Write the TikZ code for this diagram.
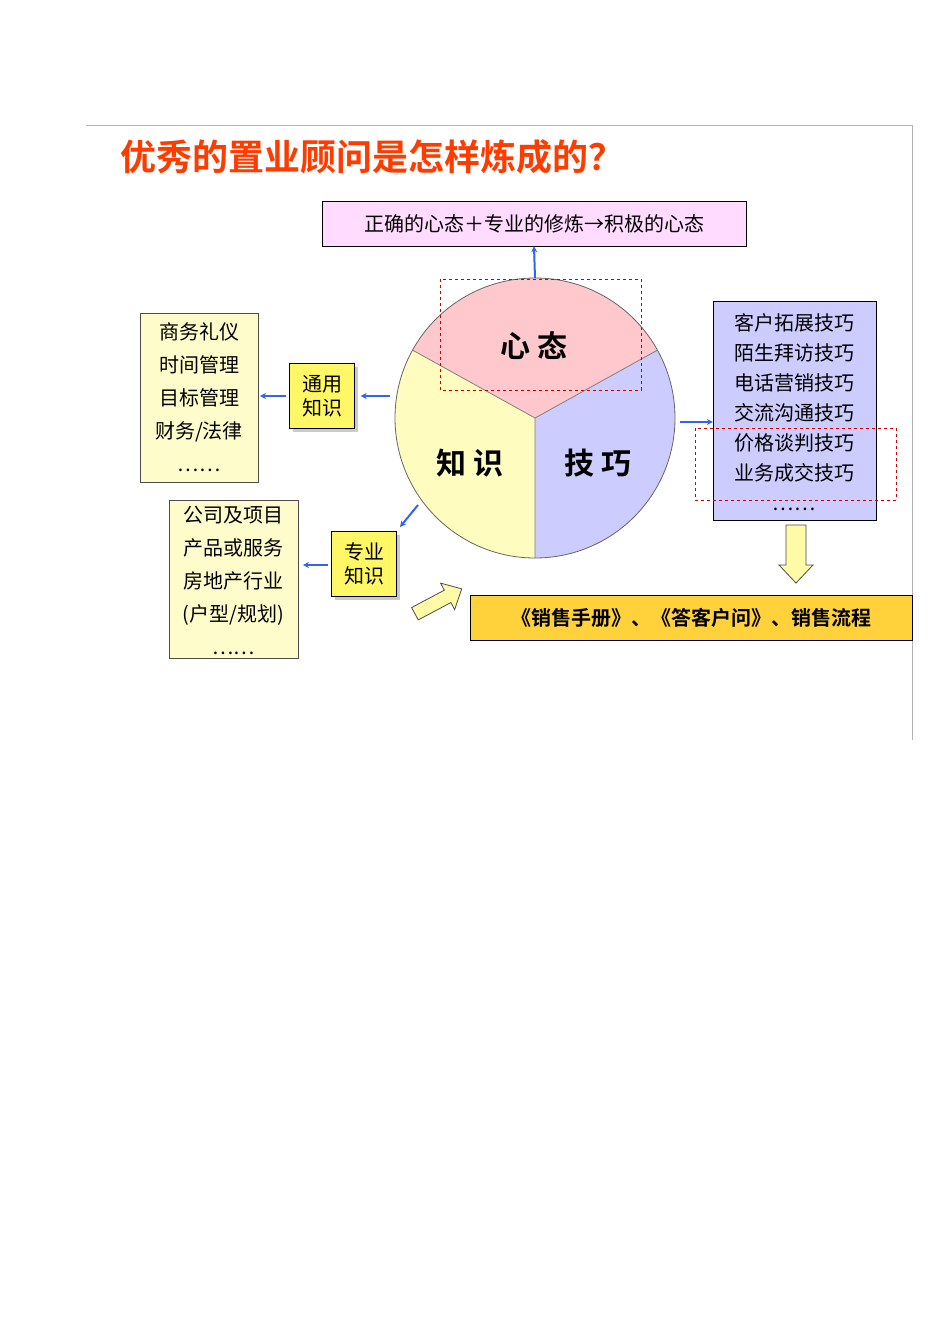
\documentclass[tikz,border=0pt]{standalone}
\usepackage{fontspec}
\setmainfont{Noto Sans CJK SC}
\newfontfamily\cjkb{Noto Sans CJK SC Bold}
\usetikzlibrary{arrows.meta,shadows}
\definecolor{pinkbox}{RGB}{255,220,255}
\definecolor{pinkseg}{RGB}{255,200,205}
\definecolor{blueseg}{RGB}{204,204,255}
\definecolor{titlered}{RGB}{255,60,0}
\definecolor{arrowblue}{RGB}{50,100,240}
\definecolor{gold}{RGB}{255,210,60}
\begin{document}
\begin{tikzpicture}[x=1pt,y=-1pt,
  txt/.style={font=\fontsize{20}{33}\selectfont,align=center,inner sep=0pt},
  ybox/.style={draw=black!70,fill=yellow!20},
  sbox/.style={draw=black,fill=yellow!60,drop shadow={shadow xshift=3pt,shadow yshift=-3pt,fill=black!40},font=\fontsize{20}{24}\selectfont,align=center,inner sep=2pt,minimum width=65pt,minimum height=65pt},
  barr/.style={-{Stealth[length=6pt,width=6pt]},line width=2pt,draw=arrowblue},
  rdash/.style={draw=red!80!black,dashed,line width=0.8pt},
  hollow/.style={draw=black!70,fill=yellow!35,line width=0.8pt}]
\useasboundingbox (0,0) rectangle (950,1344);
\fill[white] (0,0) rectangle (950,1344);
\draw[black!30] (86,125) -- (912,125) -- (912,740);
\node[font=\cjkb\fontsize{36}{40}\selectfont,text=titlered,anchor=west,inner sep=0pt] (title) at (120,157) {优秀的置业顾问是怎样炼成的？};
\node[draw=black,fill=pinkbox,minimum width=424pt,minimum height=45pt,font=\fontsize{20}{24}\selectfont] (mind) at (534,223.5) {正确的心态＋专业的修炼→积极的心态};
% circle
\coordinate (c) at (535,418);
\begin{scope}[shift={(535,418)},yscale=-1]
\fill[pinkseg] (0,0) -- (29:140) arc[start angle=29,end angle=151,radius=140] -- cycle;
\fill[yellow!25] (0,0) -- (151:140) arc[start angle=151,end angle=270,radius=140] -- cycle;
\fill[blueseg] (0,0) -- (270:140) arc[start angle=270,end angle=389,radius=140] -- cycle;
\coordinate (L) at (151:140);
\coordinate (R) at (29:140);
\coordinate (B) at (270:140);
\end{scope}
\draw[black!60,line width=0.8pt] (c) circle[radius=140];
\draw[black!50,line width=0.8pt] (L) -- (c) -- (R) (c) -- (B);
\node[font=\cjkb\fontsize{30}{30}\selectfont] (xt) at (534,346) {心 态};
\node[font=\cjkb\fontsize{30}{30}\selectfont] (zs) at (470,463) {知 识};
\node[font=\cjkb\fontsize{30}{30}\selectfont] (jq) at (598,463) {技 巧};
\coordinate (top) at (535,278);
\draw[barr] (top) -- (mind.south);
\draw[rdash] (440,279) rectangle (641,390);
% left boxes
\draw[ybox] (140,313) rectangle (258,482);
\node[txt] (l1) at (199,397.5) {商务礼仪\\时间管理\\目标管理\\财务/法律\\……};
\node[sbox] (ty) at (322,396) {通用\\知识};
\coordinate (c1) at (390,396);
\draw[barr] (c1) -- ([xshift=6pt]ty.east);
\coordinate (l1e) at (260,396);
\coordinate (tyw) at (286,396);
\draw[barr] (tyw) -- (l1e);
\node[sbox] (zy) at (364,564) {专业\\知识};
\draw[ybox] (169,500) rectangle (298,658);
\node[txt] (l2) at (233.5,580) {公司及项目\\产品或服务\\房地产行业\\(户型/规划)\\……};
\coordinate (l2e) at (303,565);
\coordinate (zyw) at (328,565);
\draw[barr] (zyw) -- (l2e);
\coordinate (c2) at (418,505);
\coordinate (c2e) at (400,527);
\draw[barr] (c2) -- (c2e);
% right
\node[draw=black,fill=blueseg,minimum width=163pt,minimum height=219pt] (rb) at (794.5,410.5) {};
\node[txt,font=\fontsize{20}{30}\selectfont] (rt) at (794,412) {客户拓展技巧\\陌生拜访技巧\\电话营销技巧\\交流沟通技巧\\价格谈判技巧\\业务成交技巧\\……};
\coordinate (c3) at (680,422);
\draw[barr] (c3) -- (rb.west|-c3);
\draw[rdash] (695,428) rectangle (896,500);
% bottom
\node[draw=black,fill=gold,minimum width=442pt,minimum height=45pt,font=\cjkb\fontsize{20}{24}\selectfont] (sales) at (691,617.5) {《销售手册》、《答客户问》、销售流程};
\draw[hollow] (786,525) -- (806,525) -- (806,565) -- (813,565) -- (796,583) -- (779,565) -- (786,565) -- cycle;
\begin{scope}[shift={(437,602)},rotate=28]
\draw[hollow] (-25,-7) -- (12,-7) -- (12,-15) -- (28,0) -- (12,15) -- (12,7) -- (-25,7) -- cycle;
\end{scope}
\end{tikzpicture}
\end{document}
